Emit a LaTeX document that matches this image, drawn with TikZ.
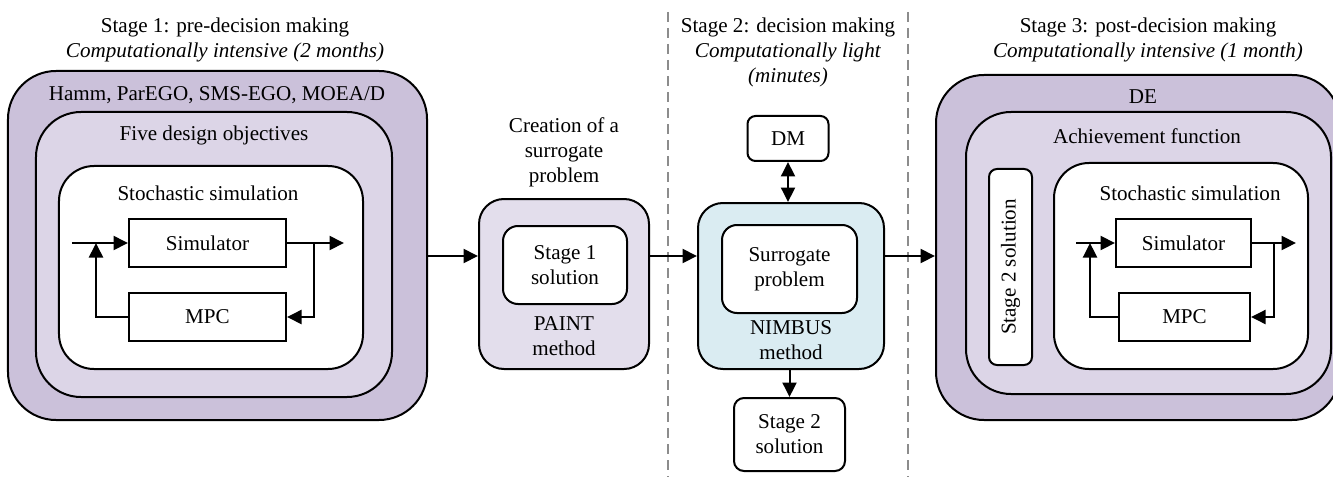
\documentclass[tikz,border=0pt]{standalone}
\usepackage{fontspec}
\setmainfont{Liberation Serif}
\usetikzlibrary{arrows.meta,positioning,calc}
\definecolor{lavdeep}{HTML}{CBC1DA}
\definecolor{lavpale}{HTML}{DCD5E7}
\definecolor{paintbg}{HTML}{E3DEEC}
\definecolor{nimbusbg}{HTML}{DAECF2}
\definecolor{sepgray}{HTML}{8C8C8C}
\tikzset{
  txt/.style     ={font=\fontsize{12}{14.2}\selectfont,align=center,inner sep=0pt},
  shell/.style   ={draw=black,line width=0.4mm,fill=lavdeep,rounded corners=9.6mm},
  ring/.style    ={draw=black,line width=0.4mm,fill=lavpale,rounded corners=9mm},
  core/.style    ={draw=black,line width=0.4mm,fill=white,rounded corners=7mm},
  block/.style   ={draw=black,line width=0.4mm,fill=white,txt,minimum height=9.6mm},
  method/.style  ={draw=black,line width=0.4mm,rounded corners=5mm},
  tag/.style     ={draw=black,line width=0.4mm,fill=white,rounded corners=3mm,txt},
  flow/.style    ={-{Triangle[length=2.9mm,width=2.8mm]},line width=0.4mm},
  twoway/.style  ={{Triangle[length=2.9mm,width=2.8mm]}-{Triangle[length=2.9mm,width=2.8mm]},line width=0.4mm},
  stagesep/.style={draw=sepgray,line width=0.4mm,dash pattern=on 2mm off 1.2mm}
}

\begin{document}
\begin{tikzpicture}[x=0.2mm,y=-0.2mm]
  \useasboundingbox (0,0) rectangle (1333,477);
  \clip (0,0) rectangle (1333,477);
  % stage borders
  \draw[stagesep] (668,12) -- (668,477);
  \draw[stagesep] (908,12) -- (908,477);
  % stage headings
  \node[txt] (head1) at (225,40) {Stage 1: pre-decision making\\\textit{Computationally intensive (2 months)}};
  \node[txt] (head2) at (788,52) {Stage 2: decision making\\\textit{Computationally light}\\\textit{(minutes)}};
  \node[txt] (head3) at (1148,40) {Stage 3: post-decision making\\\textit{Computationally intensive (1 month)}};
  \coordinate (axis) at (0,256);

  % stage 1: optimisers around the simulation loop
  \node[shell,minimum width=83.8mm,minimum height=69.8mm] (algos) at (217.5,245.5) {};
  \node[ring,minimum width=71.2mm,minimum height=57mm] (objs) at (214,254.5) {};
  \node[core,minimum width=60.8mm,minimum height=40.6mm] (simL) at (211,267.5) {};
  \node[txt] at (217,95) {Hamm, ParEGO, SMS-EGO, MOEA/D};
  \node[txt] at (214,135) {Five design objectives};
  \node[txt] at (208,193) {Stochastic simulation};
  \node[block,minimum width=31.4mm] (simuL) at (207.5,243) {Simulator};
  \node[block,minimum width=31.4mm] (mpcL) at (207.5,317) {MPC};
  \coordinate (inL)   at ([xshift=-11.2mm]simuL.west);
  \coordinate (outL)  at ([xshift=11.4mm]simuL.east);
  \coordinate (tapL)  at ([xshift=5.4mm]simuL.east);
  \coordinate (backL) at ([xshift=-6.4mm]simuL.west);
  \draw[flow] (inL) -- (simuL);
  \draw[flow] (simuL) -- (outL);
  \draw[flow] (tapL) |- (mpcL);
  \draw[flow] (mpcL) -| (backL);

  % surrogate built with PAINT
  \node[method,fill=paintbg,minimum width=34mm,minimum height=34mm] (paint) at (564,284) {};
  \node[tag,minimum width=24.8mm,minimum height=15.6mm] (sol1) at (565,265) {Stage 1\\solution};
  \node[txt] at (564,336) {PAINT\\method};
  \node[txt,above=2.2mm of paint] (create) {Creation of a\\surrogate\\problem};

  % stage 2: NIMBUS with the DM
  \node[method,fill=nimbusbg,minimum width=37.2mm,minimum height=33.2mm] (nimbus) at (791,286) {};
  \node[tag,minimum width=27mm,minimum height=17.6mm] (surr) at (789.5,269) {Surrogate\\problem};
  \node[txt] at (791,340) {NIMBUS\\method};
  \node[tag,rounded corners=1.6mm,minimum width=16.2mm,minimum height=9mm,above=8mm of nimbus,xshift=-0.6mm] (dm) {DM};
  \node[tag,rounded corners=2mm,minimum width=22.2mm,minimum height=14.6mm,below=5.4mm of nimbus,xshift=-0.3mm] (sol2) {Stage 2\\solution};
  \draw[twoway] (dm) -- (dm |- nimbus.north);
  \draw[flow] (sol2 |- nimbus.south) -- (sol2);

  % stage 3: DE on the achievement function
  \node[shell,minimum width=80.8mm,minimum height=69mm] (de) at (1138,247.5) {};
  \node[ring,minimum width=73mm,minimum height=56.4mm] (achv) at (1148.5,253) {};
  \node[core,minimum width=50.8mm,minimum height=41.2mm] (simR) at (1181,266) {};
  \node[tag,rounded corners=1.6mm,rotate=90,minimum width=39.2mm,minimum height=8.6mm] (sol2v) at (1010.5,267) {Stage 2 solution};
  \node[txt] at (1143,97) {DE};
  \node[txt] at (1147,136) {Achievement function};
  \node[txt] at (1190,193) {Stochastic simulation};
  \node[block,minimum width=27mm] (simuR) at (1183.5,243) {Simulator};
  \node[block,minimum width=26.2mm] (mpcR) at (1184.5,317) {MPC};
  \coordinate (inR)   at ([xshift=-7.8mm]simuR.west);
  \coordinate (outR)  at ([xshift=8.8mm]simuR.east);
  \coordinate (tapR)  at ([xshift=4.4mm]simuR.east);
  \coordinate (backR) at ([xshift=-5mm]simuR.west);
  \draw[flow] (inR) -- (simuR);
  \draw[flow] (simuR) -- (outR);
  \draw[flow] (tapR) |- (mpcR);
  \draw[flow] (mpcR) -| (backR);

  % hand-over between the stages
  \draw[flow] (algos.east |- axis) -- (paint.west |- axis);
  \draw[flow] (paint.east |- axis) -- (nimbus.west |- axis);
  \draw[flow] (nimbus.east |- axis) -- (de.west |- axis);
\end{tikzpicture}
\end{document}
